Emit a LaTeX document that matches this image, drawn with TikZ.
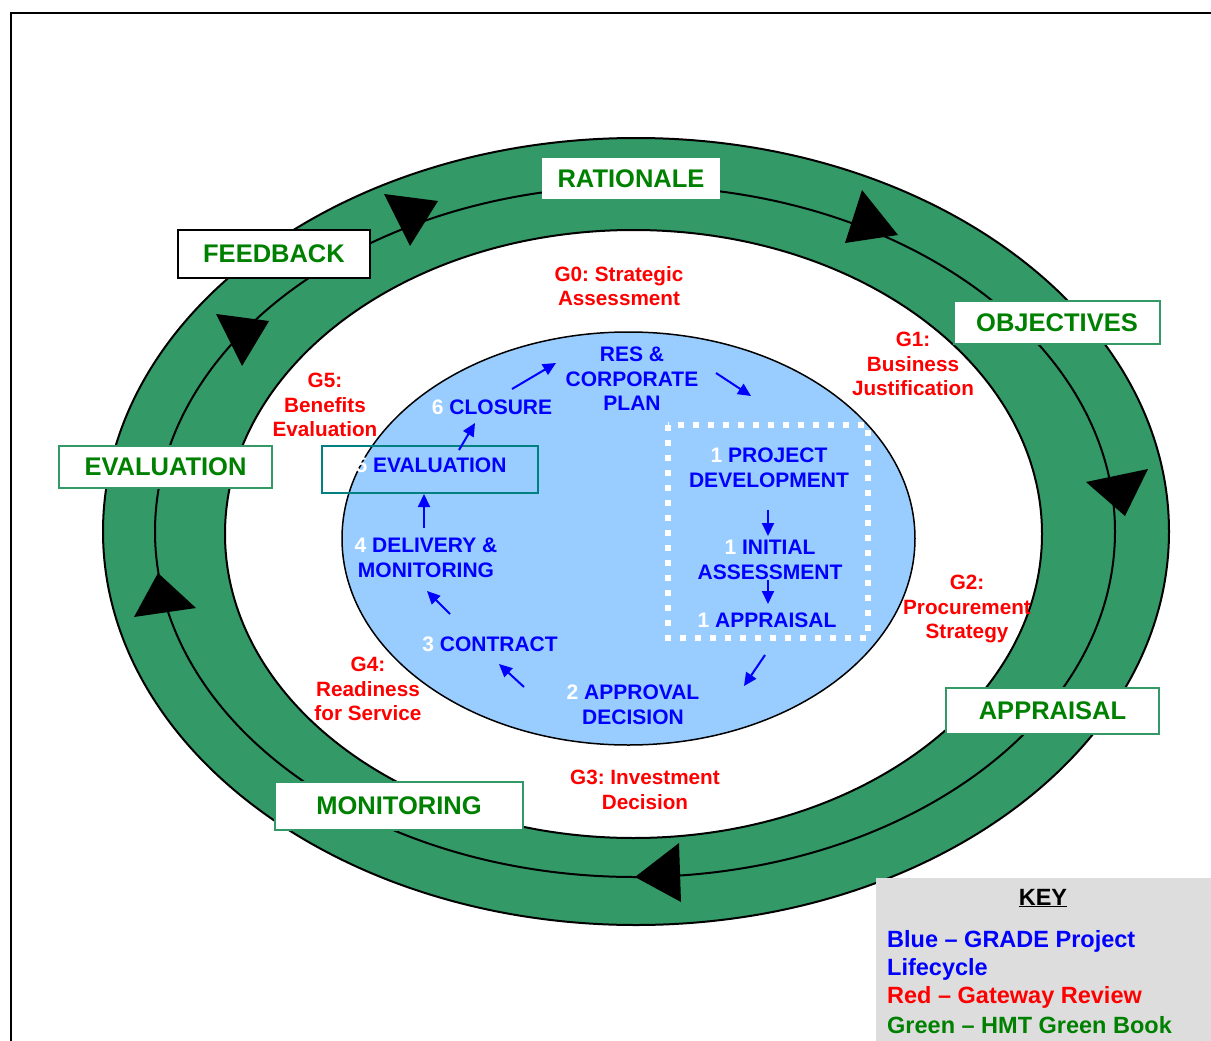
\documentclass[tikz,border=0pt]{standalone}
\usepackage{fontspec}
\setmainfont{Liberation Sans}
\usetikzlibrary{arrows.meta}
\definecolor{ring}{HTML}{339966}
\definecolor{gtext}{HTML}{008000}
\definecolor{bfill}{HTML}{99CCFF}
\definecolor{keygray}{HTML}{DDDDDD}
\definecolor{tealb}{HTML}{008080}
\frenchspacing
\begin{document}
\begin{tikzpicture}[x=1pt,y=-1pt,
 gbox/.style={draw=ring, line width=2pt, fill=white, text=gtext, font=\bfseries\fontsize{25.5}{29}\selectfont, inner sep=0pt},
 btxt/.style={text=blue, font=\bfseries\fontsize{21}{24.5}\selectfont, align=center, inner sep=0pt},
 rtxt/.style={text=red, font=\bfseries\fontsize{20.7}{24.5}\selectfont, align=center, inner sep=0pt},
 ktxt/.style={font=\bfseries\fontsize{23.5}{28}\selectfont, inner sep=0pt, anchor=west},
 barrow/.style={draw=blue, line width=2pt, -{Triangle[length=13pt,width=12pt]}},
 tri/.style={fill=black},
 ]
\useasboundingbox (0,0) rectangle (1211,1041);
\fill[white] (0,0) rectangle (1211,1041);
\draw[line width=2pt] (11,1060) -- (11,13) -- (1230,13);
% rings
\filldraw[fill=ring, draw=black, line width=2pt] (636,531.5) ellipse [x radius=533pt, y radius=393.5pt];
\filldraw[fill=white, draw=black, line width=2pt] (633.5,534) ellipse [x radius=408.5pt, y radius=304pt];
\draw[black, line width=2pt] (635,531.5) ellipse [x radius=480pt, y radius=345.5pt];
% ring arrowheads
\fill[tri] (384,194) -- (438,201) -- (410,246) -- cycle;
\fill[tri] (862,190) -- (898,235) -- (845,243) -- cycle;
\fill[tri] (1086,482) -- (1148,469) -- (1125,516) -- cycle;
\fill[tri] (635,877) -- (679,843) -- (681,902) -- cycle;
\fill[tri] (158,573) -- (196,608) -- (134,617) -- cycle;
\fill[tri] (216,314) -- (269,321) -- (242,366) -- cycle;
% blue ellipse
\filldraw[fill=bfill, draw=black, line width=1.5pt] (628.5,538.5) ellipse [x radius=286.5pt, y radius=206.5pt];
% dotted white box
\draw[white, line width=6pt, dash pattern=on 6pt off 9pt] (668,425) rectangle (868,638);
% green boxes
\node[gbox, draw=white, minimum width=176pt, minimum height=39pt] (rat) at (631,178.5) {RATIONALE};
\node[gbox, draw=black, minimum width=192pt, minimum height=48pt] (fb) at (274,254) {FEEDBACK};
\node[gbox, minimum width=206pt, minimum height=43pt] (obj) at (1057,322.5) {OBJECTIVES};
\node[gbox, minimum width=213pt, minimum height=42pt] (evl) at (165.5,467) {EVALUATION};
\node[gbox, minimum width=213pt, minimum height=46pt] (app) at (1052.5,711) {APPRAISAL};
\node[gbox, minimum width=248pt, minimum height=48pt] (mon) at (399,806) {MONITORING};
% blue lifecycle
\node[btxt] (res) at (632,379) {RES \&\\CORPORATE\\PLAN};
\node[btxt] (clo) at (492,407) {{\color{white}6} CLOSURE};
\node[draw=tealb, line width=1.5pt, minimum width=216pt, minimum height=47pt, inner sep=0pt] (evbox) at (430,469.5) {};
\node[btxt] (ev5) at (431,465) {{\color{white}5} EVALUATION};
\node[btxt] (del) at (426,558) {{\color{white}4} DELIVERY \&\\MONITORING};
\node[btxt] (con) at (490,644) {{\color{white}3} CONTRACT};
\node[btxt] (apd) at (633,705) {{\color{white}2} APPROVAL\\DECISION};
\node[btxt] (pd) at (769,468) {{\color{white}1} PROJECT\\DEVELOPMENT};
\node[btxt] (ia) at (770,560) {{\color{white}1} INITIAL\\ASSESSMENT};
\node[btxt] (ap1) at (767,620) {{\color{white}1} APPRAISAL};
% blue arrows
\coordinate (a1s) at (512,389); \coordinate (a1e) at (556,363);
\coordinate (a2s) at (716,373); \coordinate (a2e) at (751,396);
\coordinate (a3s) at (459,450); \coordinate (a3e) at (475,423);
\coordinate (a4s) at (424,528); \coordinate (a4e) at (424,494);
\coordinate (a5s) at (450,614); \coordinate (a5e) at (427,591);
\coordinate (a6s) at (524,687); \coordinate (a6e) at (499,664);
\coordinate (a7s) at (765,655); \coordinate (a7e) at (744,686);
\coordinate (a8s) at (768,510); \coordinate (a8e) at (768,536);
\coordinate (a9s) at (768,580); \coordinate (a9e) at (768,604);
\foreach \i in {1,...,9} {\draw[barrow] (a\i s) -- (a\i e);}
% red gateway labels
\node[rtxt] (g0) at (619,286) {G0: Strategic\\Assessment};
\node[rtxt] (g1) at (913,364) {G1:\\Business\\Justification};
\node[rtxt] (g2) at (967,609) {G2:\\Procurement\\Strategy};
\node[rtxt] (g3) at (645,790) {G3: Investment\\Decision};
\node[rtxt] (g4) at (368,689) {G4:\\Readiness\\for Service};
\node[rtxt] (g5) at (325,405) {G5:\\Benefits\\Evaluation};
% key
\node[fill=keygray, minimum width=345pt, minimum height=175pt, anchor=north west, inner sep=0pt] (key) at (876,878) {};
\node[font=\bfseries\fontsize{23.5}{28}\selectfont, inner sep=0pt] (keyt) at (1043,898) {\underline{KEY}};
\node[ktxt, text=blue] (k1) at (887,941) {Blue – GRADE Project};
\node[ktxt, text=blue] (k2) at (887,969) {Lifecycle};
\node[ktxt, text=red] (k3) at (887,997) {Red – Gateway Review};
\node[ktxt, text=gtext] (k4) at (887,1025) {Green – HMT Green Book};
\end{tikzpicture}
\end{document}
